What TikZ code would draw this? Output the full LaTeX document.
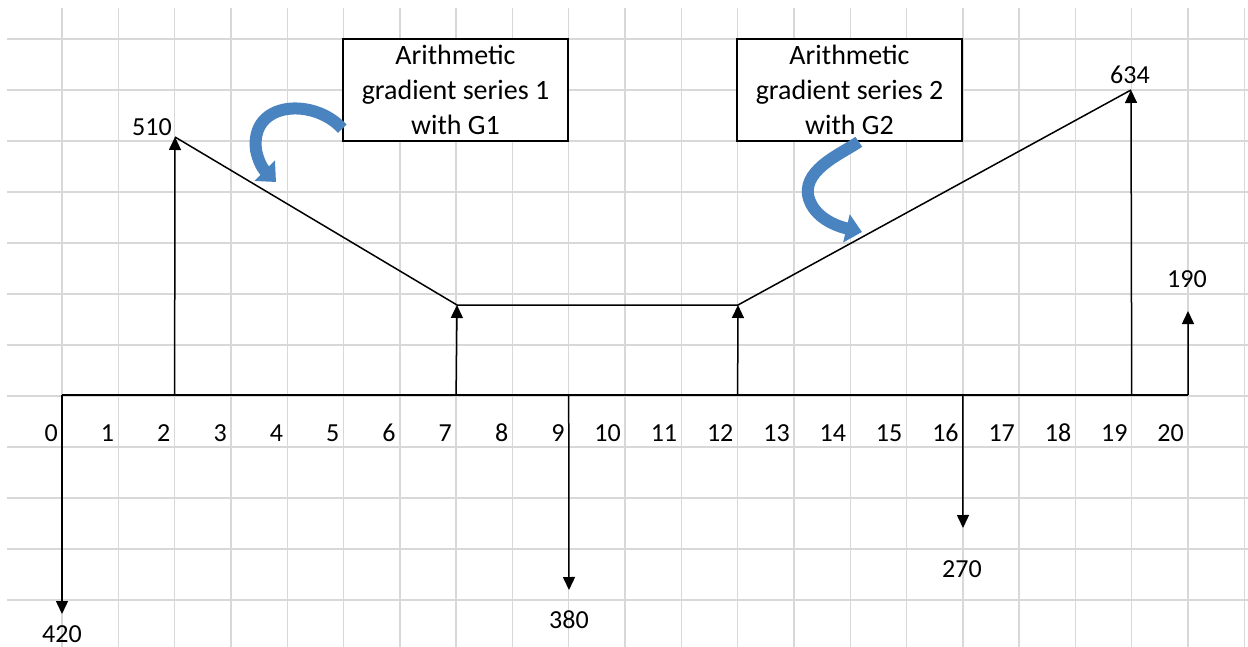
\documentclass[tikz,border=0pt]{standalone}
\usepackage{fontspec}
\setmainfont{Carlito}
\usetikzlibrary{arrows.meta}
\definecolor{gridgray}{RGB}{216,216,216}
\definecolor{curveblue}{RGB}{74,132,192}
\tikzset{
  gridline/.style={draw=gridgray, line width=1.4pt},
  flowline/.style={draw=black, line width=1.5pt},
  flowarrow/.style={flowline, -{Triangle[width=12pt,length=13pt]}},
  tick/.style={anchor=east, inner sep=0pt, font=\fontsize{26}{30}\selectfont},
  amount/.style={inner sep=0pt, font=\fontsize{26}{30}\selectfont},
  seriesbox/.style={draw=black, line width=1.5pt, fill=white, minimum width=225pt, minimum height=102pt, inner sep=0pt, align=center, font=\fontsize{28}{35}\selectfont},
  bluecurve/.style={draw=curveblue, line width=12pt, -{Triangle[width=28pt,length=16pt]}}
}
\begin{document}
\begin{tikzpicture}[x=1pt,y=-1pt]
\useasboundingbox (0,0) rectangle (1248,647);
\fill[white] (0,0) rectangle (1248,647);
% grid
\foreach \k in {0,...,21} \draw[gridline] (62+56.3*\k,8) -- (62+56.3*\k,647);
\foreach \j in {0,...,11} \draw[gridline] (7,39+51*\j) -- (1248,39+51*\j);
% axis coordinates
\foreach \k in {0,...,20} {
  \coordinate (t\k) at (62+56.3*\k,395);
  \node[tick] (n\k) at (62+56.3*\k-4,433) {\k};
}
\draw[flowline] (t0) -- (t20);
% end points of cash flows
\coordinate (e0) at (62,614);
\coordinate (p2) at (175,137);
\coordinate (p7) at (457,305);
\coordinate (e9) at (569,590);
\coordinate (p12) at (738,305);
\coordinate (e16) at (963,528);
\coordinate (p19) at (1131,90);
\coordinate (p20) at (1188,311);
\draw[flowarrow] (t0) -- (e0);
\draw[flowarrow] (t2) -- (p2);
\draw[flowarrow] (t7) -- (p7);
\draw[flowarrow] (t9) -- (e9);
\draw[flowarrow] (t12) -- (p12);
\draw[flowarrow] (t16) -- (e16);
\draw[flowarrow] (t19) -- (p19);
\draw[flowarrow] (t20) -- (p20);
\draw[flowline] (p2) -- (p7) -- (p12) -- (p19);
% amounts
\node[amount] (a420) at (62,634) {420};
\node[amount] (a510) at (152,127) {510};
\node[amount] (a380) at (569,620) {380};
\node[amount] (a270) at (962,569) {270};
\node[amount] (a634) at (1130,75) {634};
\node[amount] (a190) at (1187,279) {190};
% boxes
\node[seriesbox] (b1) at (455.5,90) {Arithmetic\\gradient series 1\\with G1};
\node[seriesbox] (b2) at (849.5,90) {Arithmetic\\gradient series 2\\with G2};
% curved arrows
\coordinate (c1s) at ([yshift=13pt]b1.south west);
\coordinate (c1e) at (276,182);
\draw[bluecurve] (c1s) .. controls (315,98) and (250,100) .. (256,150) .. controls (258,160) and (262,168) .. (c1e);
\coordinate (c2s) at ([xshift=-104pt]b2.south east);
\coordinate (c2e) at (862,232);
\draw[bluecurve] (c2s) .. controls (845,152) and (804,168) .. (808,195) .. controls (812,215) and (832,225) .. (c2e);
\end{tikzpicture}
\end{document}
